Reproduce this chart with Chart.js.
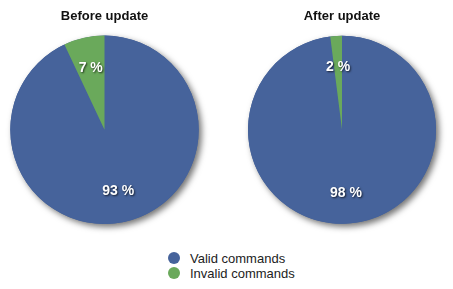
<!DOCTYPE html>
<html>
<head>
<meta charset="utf-8">
<script src="https://cdn.jsdelivr.net/npm/chart.js@4/dist/chart.umd.min.js"></script>
<style>
  body { margin: 0; background: #fff; width: 453px; height: 289px; overflow: hidden; position: relative;
         font-family: "Liberation Sans", Arial, Helvetica, sans-serif; }
  .box { position: absolute; top: 0; height: 240px; }
  #legend { position: absolute; left: 168px; top: 251px; font-size: 13px; color: #222; }
  #legend div { height: 15px; line-height: 15px; white-space: nowrap; }
  #legend span { display: inline-block; width: 12px; height: 12px; border-radius: 50%;
                 vertical-align: -1px; margin-right: 10px; }
</style>
</head>
<body>
<div class="box" style="left:0;width:227px"><canvas id="before"></canvas></div>
<div class="box" style="left:227px;width:226px"><canvas id="after"></canvas></div>
<div id="legend"></div>
<script>
var labels = ["Valid commands", "Invalid commands"];
var titles = ["Before update", "After update"];
var beforeValues = [93, 7];
var afterValues = [98, 2];
var colors = ["#46639b", "#6aa95b"];

// soft shadow under the whole pie
var pieShadow = {
    id: "pieShadow",
    beforeDatasetsDraw: function (chart) {
        var arc = chart.getDatasetMeta(0).data[0];
        if (!arc) return;
        var ctx = chart.ctx;
        ctx.save();
        ctx.shadowColor = "rgba(0,0,0,0.55)";
        ctx.shadowBlur = 6;
        ctx.shadowOffsetX = 3;
        ctx.shadowOffsetY = 3;
        ctx.beginPath();
        ctx.arc(arc.x, arc.y, arc.outerRadius, 0, Math.PI * 2);
        ctx.fillStyle = colors[0];
        ctx.fill();
        ctx.restore();
    }
};

var percentLabels = {
    id: "percentLabels",
    afterDatasetsDraw: function (chart) {
        var ctx = chart.ctx;
        var values = chart.data.datasets[0].data;
        chart.getDatasetMeta(0).data.forEach(function (arc, i) {
            var mid = (arc.startAngle + arc.endAngle) / 2;
            var r = arc.outerRadius * 0.67;
            var x = arc.x + Math.cos(mid) * r;
            var y = arc.y + Math.sin(mid) * r;
            ctx.save();
            ctx.font = "bold 14px 'Liberation Sans', Arial, sans-serif";
            ctx.textAlign = "center";
            ctx.textBaseline = "middle";
            ctx.shadowColor = "rgba(0,0,0,0.7)";
            ctx.shadowBlur = 2;
            ctx.shadowOffsetX = 1;
            ctx.shadowOffsetY = 1;
            ctx.fillStyle = "#fff";
            ctx.fillText(values[i] + " %", x, y);
            ctx.restore();
        });
    }
};

function makePie(id, title, values, pad) {
    new Chart(document.getElementById(id), {
        type: "pie",
        data: {
            labels: labels,
            datasets: [{ data: values, backgroundColor: colors, borderWidth: 0, hoverOffset: 0 }]
        },
        options: {
            responsive: true,
            maintainAspectRatio: false,
            animation: false,
            events: [],
            layout: { padding: pad },
            plugins: {
                legend: { display: false },
                tooltip: { enabled: false },
                title: {
                    display: true,
                    text: title,
                    color: "#111",
                    font: { family: "'Liberation Sans', Arial, sans-serif", size: 13, weight: "bold" },
                    padding: { top: 9, bottom: 11 }
                }
            }
        },
        plugins: [pieShadow, percentLabels]
    });
}

makePie("before", titles[0], beforeValues, { left: 10, right: 28, top: 0, bottom: 16 });
makePie("after", titles[1], afterValues, { left: 21, right: 17, top: 0, bottom: 16 });

var legend = document.getElementById("legend");
labels.forEach(function (l, i) {
    var row = document.createElement("div");
    row.innerHTML = '<span style="background:' + colors[i] + '"></span>' + l;
    legend.appendChild(row);
});
</script>
</body>
</html>
